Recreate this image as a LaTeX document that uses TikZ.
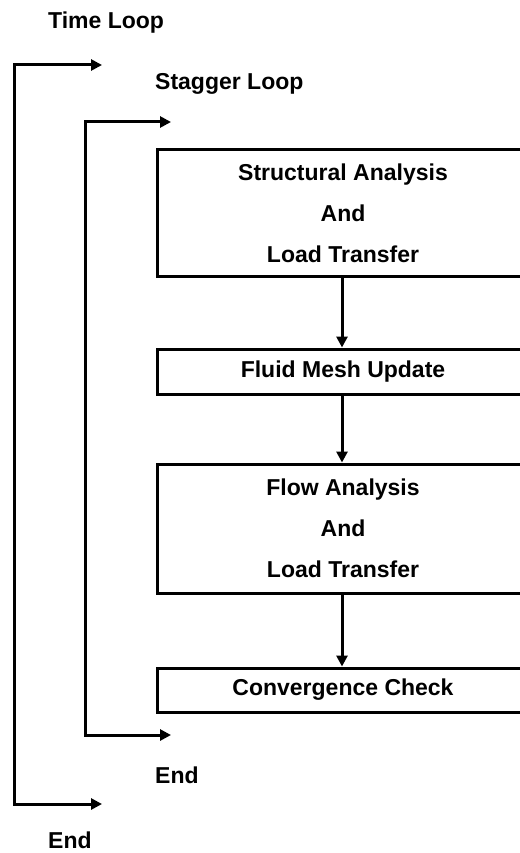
\documentclass[tikz,border=0pt]{standalone}
\usepackage{fontspec}
\setmainfont{Liberation Sans}
\usetikzlibrary{arrows.meta}
\newcommand{\labelfont}{\bfseries\fontsize{23}{41}\selectfont}
\tikzset{
  stepbox/.style={draw, line width=3pt, minimum width=372pt, align=center, inner sep=0pt, font=\labelfont},
  flow/.style={line width=3pt, -{Triangle[length=11pt,width=11pt]}},
  loopline/.style={line width=3pt, {Triangle[length=11pt,width=11pt]}-{Triangle[length=11pt,width=11pt]}},
  looplabel/.style={anchor=west, inner sep=0pt, font=\labelfont},
}
\begin{document}
\begin{tikzpicture}[x=1pt,y=-1pt]
  \useasboundingbox (0,0) rectangle (519,853);

  \node[looplabel] (timeloop) at (48,23) {Time Loop};
  \node[looplabel] (staggerloop) at (155,84) {Stagger Loop};

  % the four steps
  \node[stepbox, minimum height=126pt] (struct) at (343,213) {Structural Analysis\\And\\Load Transfer};
  \node[stepbox, minimum height=45pt] (mesh) at (343,371.5) {Fluid Mesh Update};
  \node[stepbox, minimum height=129pt] (flow) at (343,528.5) {Flow Analysis\\And\\Load Transfer};
  \node[stepbox, minimum height=44pt] (conv) at (343,690) {Convergence Check};

  \draw[flow] (struct.south -| 342,0) -- (mesh.north -| 342,0);
  \draw[flow] (mesh.south -| 342,0) -- (flow.north -| 342,0);
  \draw[flow] (flow.south -| 342,0) -- (conv.north -| 342,0);

  % stagger loop
  \coordinate (stop) at (171,122);
  \coordinate (sbot) at (171,735);
  \draw[loopline] (stop) -- (85,122) -- (85,735) -- (sbot);
  \node[looplabel] (sendlabel) at (155,775) {End};

  % time loop
  \coordinate (ttop) at (102,65);
  \coordinate (tbot) at (102,804);
  \draw[loopline] (ttop) -- (14,65) -- (14,804) -- (tbot);
  \node[looplabel] (tendlabel) at (48,840) {End};
\end{tikzpicture}
\end{document}
